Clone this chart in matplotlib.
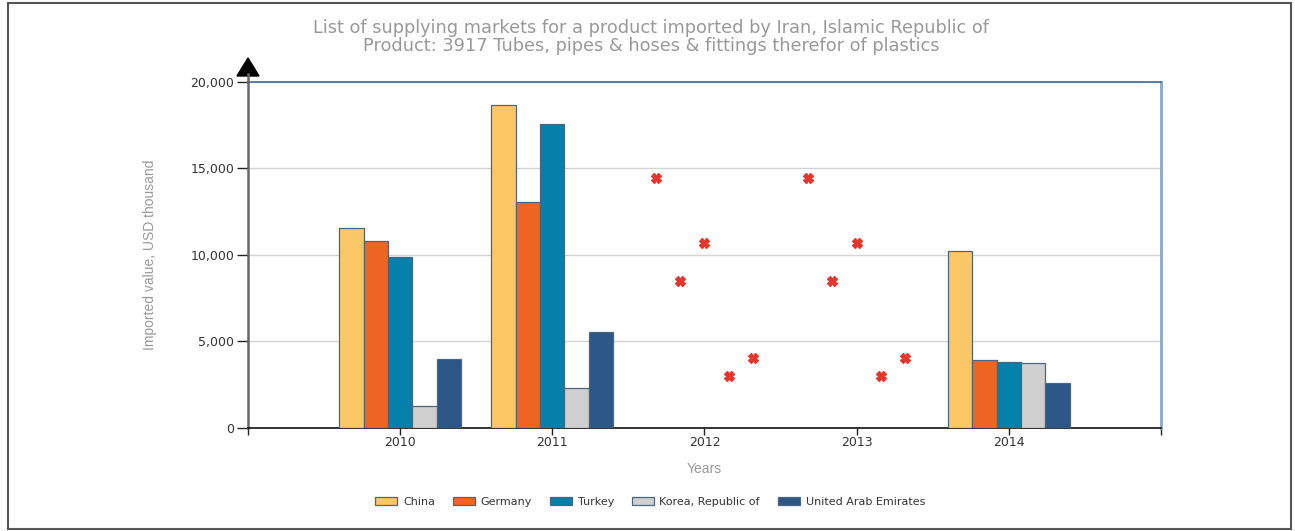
import matplotlib

matplotlib.use('Agg')

import matplotlib.pyplot as plt
import numpy as np
from matplotlib.lines import Line2D
from matplotlib.patches import Polygon, Rectangle

# values (USD thousand)
years = [2010, 2011, 2012, 2013, 2014]
countries = ['China', 'Germany', 'Turkey', 'Korea, Republic of', 'United Arab Emirates']
china = [11540, 18690, np.nan, np.nan, 10250]
germany = [10790, 13040, np.nan, np.nan, 3950]
turkey = [9880, 17590, np.nan, np.nan, 3810]
korea = [1290, 2290, np.nan, np.nan, 3760]
uae = [4010, 5530, np.nan, np.nan, 2600]

# red "x" markers drawn in the years without data
missing_years = [2012, 2013]
missing_marks = [14470, 8500, 10670, 3020, 4050]

colors = ['#FDC765', '#EE6423', '#0480AA', '#D0D0D0', '#2C5786']
series = [china, germany, turkey, korea, uae]

W, H = 1295, 531
fig = plt.figure(figsize=(W / 100, H / 100), dpi=100)
ax = fig.add_axes([0.1915, 0.194, 0.705, 0.6516])

bar_w = 0.16
for i, (vals, col) in enumerate(zip(series, colors)):
    xs = np.array(years) + (i - 2) * bar_w
    ax.bar(xs, vals, width=bar_w, color=col, edgecolor='#4d6680',
           linewidth=0.9, label=countries[i], zorder=3)

for yr in missing_years:
    xs = yr + (np.arange(5) - 2) * bar_w
    ax.plot(xs, missing_marks, linestyle='none', marker='X', markersize=6.5,
            color='#e8352b', markeredgecolor='#e8352b', zorder=4)

ax.set_xlim(2009, 2015)
ax.set_ylim(0, 20000)
ax.set_yticks([0, 5000, 10000, 15000, 20000])
ax.set_yticklabels(['{:,}'.format(v) for v in [0, 5000, 10000, 15000, 20000]])
ax.set_xticks(range(2009, 2016))
ax.set_xticklabels([''] + [str(y) for y in years] + [''])
ax.yaxis.grid(True, color='#d4d4d4', linewidth=1, zorder=0)
ax.set_axisbelow(True)

ax.tick_params(axis='y', length=8, width=1, color='#222222', labelcolor='#333333',
               labelsize=9, pad=2)
ax.tick_params(axis='x', length=5, width=1, color='#222222', labelcolor='#333333',
               labelsize=9, pad=1)

ax.spines['left'].set_color('#666666')
ax.spines['left'].set_linewidth(1.8)
ax.spines['bottom'].set_color('#111111')
ax.spines['bottom'].set_linewidth(1.2)
ax.spines['top'].set_color('#3d6a9b')
ax.spines['top'].set_linewidth(1.2)
ax.spines['right'].set_color('#8aa6c6')
ax.spines['right'].set_linewidth(2)

ax.set_ylabel('Imported value, USD thousand', color='#999999', fontsize=10,
              fontfamily='Liberation Sans', labelpad=24)
ax.set_xlabel('Years', color='#999999', fontsize=10, fontfamily='Liberation Sans',
              labelpad=9)

# arrow head on top of the y axis (pixel positions of the frame)
fig.lines.append(Line2D([248 / W, 248 / W], [1 - 82 / H, 1 - 74 / H], transform=fig.transFigure,
                        color='#666666', linewidth=1.8))
tri = [(237 / W, 1 - 76 / H), (259 / W, 1 - 76 / H), (248 / W, 1 - 58 / H)]
fig.patches.append(Polygon(tri, closed=True, transform=fig.transFigure,
                           facecolor='black', edgecolor='black'))

fig.text(0.503, 0.947, 'List of supplying markets for a product imported by Iran, Islamic Republic of',
         ha='center', va='center', color='#999999', fontsize=12.8)
fig.text(0.503, 0.913, 'Product: 3917 Tubes, pipes & hoses & fittings therefor of plastics',
         ha='center', va='center', color='#999999', fontsize=12.8)

leg = fig.legend(*ax.get_legend_handles_labels(), loc='center', bbox_to_anchor=(0.502, 0.055),
                 ncol=5, frameon=False, fontsize=8, handlelength=2.0, handleheight=0.8,
                 columnspacing=1.6, handletextpad=0.5)
for t in leg.get_texts():
    t.set_color('#333333')

fig.patches.append(Rectangle((0.006, 0.004), 0.991, 0.99, transform=fig.transFigure,
                             fill=False, edgecolor='#555555', linewidth=1.5))

fig.savefig('out.png', dpi=100)
